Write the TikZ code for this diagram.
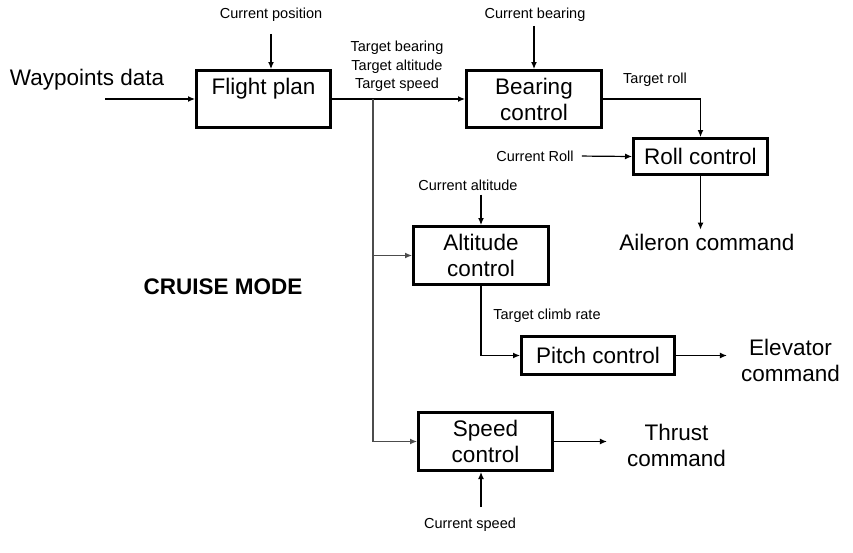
\documentclass[tikz,border=0pt]{standalone}
\usepackage{fontspec}
\setmainfont{Liberation Sans}
\usetikzlibrary{arrows.meta}
\newcommand{\bigtxt}{\fontsize{22.5}{26}\selectfont}
\newcommand{\smalltxt}{\fontsize{14.5}{18.5}\selectfont}

\begin{document}
\begin{tikzpicture}[
    x=1pt, y=-1pt,
    every node/.style={font=\smalltxt, inner sep=2pt},
    block/.style={draw, line width=3pt, font=\bigtxt, align=center, inner sep=0pt},
    outlabel/.style={font=\bigtxt, align=center},
    arr/.style={-{Latex[length=7pt,width=6pt]}, line width=1.2pt},
    trunk/.style={arr, draw=black!70},
  ]
    \useasboundingbox (0,0) rectangle (853,552);

    % blocks
    \node[block, minimum width=134pt, minimum height=57pt] (flight) at (263.5,99) {Flight plan\\\mbox{}};
    \node[block, minimum width=135pt, minimum height=57pt] (bear)   at (534,99)    {Bearing\\control};
    \node[block, minimum width=134pt, minimum height=36pt] (roll)   at (700.5,156.5) {Roll control};
    \node[block, minimum width=135pt, minimum height=58pt] (alt)    at (481,255.5) {Altitude\\control};
    \node[block, minimum width=153pt, minimum height=38pt] (pitch)  at (598,355.5) {Pitch control};
    \node[block, minimum width=134pt, minimum height=58pt] (speed)  at (485.5,441.5) {Speed\\control};

    % inputs
    \node[outlabel] (wp) at (87,80) {Waypoints data};
    \node (curpos)  at (271,15)  {Current position};
    \node (curbear) at (535,15)  {Current bearing};
    \node (curroll) at (535,156) {Current Roll};
    \node (curalt)  at (468,185) {Current altitude};
    \node (curspd)  at (470,525) {Current speed};

    % signal labels
    \node[align=center] (targets) at (397,66.5) {Target bearing\\Target altitude\\Target speed};
    \node (troll) at (655,80)  {Target roll};
    \node (climb) at (547,316) {Target climb rate};
    \node[font=\bigtxt\bfseries] (cruise) at (223,287) {CRUISE MODE};

    % outputs
    \node[outlabel] (aileron) at (707,242)   {Aileron command};
    \node[outlabel] (elev)    at (790.5,360) {Elevator\\command};
    \node[outlabel] (thrust)  at (676.5,445) {Thrust\\command};

    % connectors
    \coordinate (wpin) at (105,99);
    \coordinate (split) at (373,99);
    \draw[arr] (wpin) -- (flight.west);
    \draw[arr, shorten <=10pt] (curpos.south) -- (curpos.south |- flight.north);
    \draw[arr, shorten <=2pt] (curbear.south -| bear.north) -- (bear.north);
    \draw[arr] (flight.east) -- (bear.west);
    \draw[arr] (bear.east) -| (roll.north);
    \draw[arr, shorten <=6pt] (curroll.east) -- (roll.west);
    \draw[arr, shorten >=2pt] (roll.south) -- (roll.south |- aileron.north);
    \draw[trunk] (split) |- (alt.west);
    \draw[trunk] (split) |- (speed.west);
    \draw[arr, shorten <=2pt] (curalt.south -| alt.north) -- (alt.north);
    \draw[arr] (alt.south) |- (pitch.west);
    \draw[arr, shorten >=12pt] (pitch.east) -- (pitch.east -| elev.west);
    \draw[arr, shorten >=18pt] (speed.east) -- (speed.east -| thrust.west);
    \draw[arr, shorten <=9pt] (curspd.north -| alt.south) -- (speed.south -| alt.south);
\end{tikzpicture}
\end{document}
